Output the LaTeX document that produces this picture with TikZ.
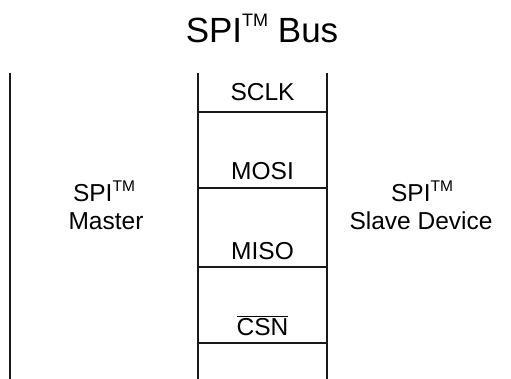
\documentclass[tikz,border=0pt]{standalone}
\usepackage{fontspec}
\setmainfont{Liberation Sans}
\newcommand{\tmbig}{\raisebox{16.5pt}{\fontsize{18}{18}\selectfont TM}}
\newcommand{\tmsmall}{\raisebox{9.5pt}{\fontsize{15.5}{15.5}\selectfont TM}}
\begin{document}
\begin{tikzpicture}[x=1pt,y=-1pt,
  wire/.style={line width=1.9pt,black!90},
  lbl/.style={anchor=base,inner sep=0pt,font=\fontsize{24.5}{24.5}\selectfont},
  title/.style={anchor=base,inner sep=0pt,font=\fontsize{35}{35}\selectfont}]
\useasboundingbox (0,0) rectangle (511,379);
% title
\node[title] (t) at (262,42.7) {SPI\tmbig\ Bus};
% vertical lines
\coordinate (m1) at (10,73);  \coordinate (m2) at (10,379);
\coordinate (a1) at (198,73); \coordinate (a2) at (198,379);
\coordinate (b1) at (327,73); \coordinate (b2) at (327,379);
\draw[wire] (m1) -- (m2);
\draw[wire] (a1) -- (a2);
\draw[wire] (b1) -- (b2);
% horizontal separators
\coordinate (h1a) at (198,112);   \coordinate (h1b) at (327,112);
\coordinate (h2a) at (198,188);   \coordinate (h2b) at (327,188);
\coordinate (h3a) at (198,267);   \coordinate (h3b) at (327,267);
\coordinate (h4a) at (198,343);   \coordinate (h4b) at (327,343);
\draw[wire] (h1a) -- (h1b);
\draw[wire] (h2a) -- (h2b);
\draw[wire] (h3a) -- (h3b);
\draw[wire] (h4a) -- (h4b);
% signal labels
\node[lbl] (sclk) at (262.5,100.3) {SCLK};
\node[lbl] (mosi) at (262.5,180) {MOSI};
\node[lbl] (miso) at (262.5,259) {MISO};
\node[lbl] (csn) at (262.5,335) {$\overline{\mbox{CSN}}$};
% side labels
\node[lbl] (ms1) at (104,201.5) {SPI\tmsmall};
\node[lbl] (ms2) at (106,229.5) {Master};
\node[lbl] (sl1) at (422,201.5) {SPI\tmsmall};
\node[lbl] (sl2) at (421,229.5) {Slave Device};
\end{tikzpicture}
\end{document}
